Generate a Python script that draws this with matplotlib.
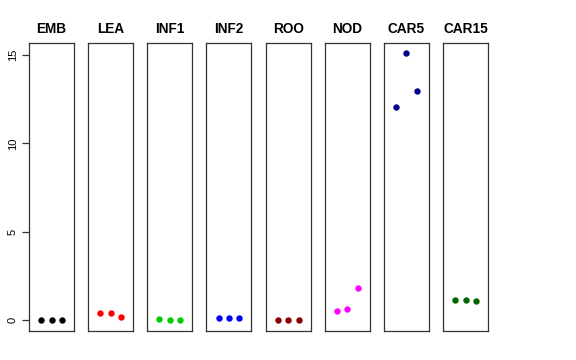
import matplotlib
matplotlib.use("Agg")
import matplotlib.pyplot as plt

plt.rcParams['font.family'] = ['Liberation Sans', 'DejaVu Sans']

categories = ["EMB", "LEA", "INF1", "INF2", "ROO", "NOD", "CAR5", "CAR15"]
colors = ["#000000", "#FF0000", "#00CD00", "#0000FF", "#8B0000", "#FF00FF", "#00008B", "#006400"]
values = {
    "EMB": [0.0, 0.0, 0.0],
    "LEA": [0.40, 0.40, 0.15],
    "INF1": [0.05, 0.03, 0.0],
    "INF2": [0.09, 0.11, 0.11],
    "ROO": [0.0, 0.0, 0.0],
    "NOD": [0.54, 0.60, 1.83],
    "CAR5": [12.07, 15.09, 12.98],
    "CAR15": [1.11, 1.11, 1.05],
}
yticks = [0, 5, 10, 15]

W, H = 576, 360
fig = plt.figure(figsize=(W / 100, H / 100), dpi=100)

left0 = 29
step = 59.15
pw = 45
top = 43
bottom = 331
ymin, ymax = -0.62, 15.68

for i, cat in enumerate(categories):
    ax = fig.add_axes([(left0 + i * step) / W, (H - bottom) / H, pw / W, (bottom - top) / H])
    ys = values[cat]
    xs = list(range(1, len(ys) + 1))
    ax.plot(xs, ys, 'o', color=colors[i], markersize=4.6, markeredgewidth=0)
    ax.set_xlim(-0.16, 4.16)
    ax.set_ylim(ymin, ymax)
    ax.set_xticks([])
    for s in ax.spines.values():
        s.set_linewidth(0.9)
        s.set_color("#333333")
    ax.set_title(cat, fontsize=9.8, fontweight='bold', pad=7)
    if i == 0:
        ax.set_yticks(yticks)
        ax.set_yticklabels([str(t) for t in yticks], rotation=90, va='center', fontsize=8)
        ax.tick_params(axis='y', length=5, width=0.9, color="#333333", pad=3)
    else:
        ax.set_yticks([])

fig.savefig("out.png", dpi=100)
